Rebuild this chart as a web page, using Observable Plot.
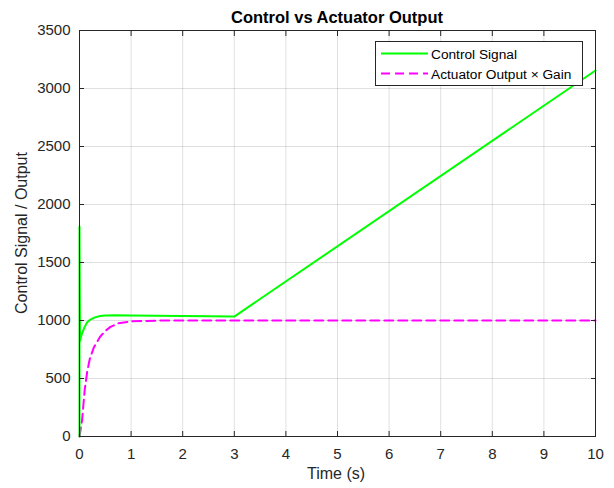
<!DOCTYPE html>
<html><head><meta charset="utf-8">
<script src="https://cdn.jsdelivr.net/npm/d3@7"></script>
<script src="https://cdn.jsdelivr.net/npm/@observablehq/plot@0.6"></script>
<style>body{margin:0;background:#fff;font-family:"Liberation Sans",Arial,sans-serif}</style>
</head><body><div id="chart"></div>
<script>
const controlT = [0, 0, 0.01, 0.03, 0.05, 0.1, 0.15, 0.2, 0.3, 0.4, 0.5, 0.7, 1.0, 1.5, 2.0, 2.5, 3.0, 10];
const controlV = [0, 1810, 820, 860, 890, 945, 985, 1005, 1027, 1038, 1043, 1046, 1044, 1041, 1038, 1036, 1034, 3155];
const actT = [0, 0.05, 0.1, 0.15, 0.2, 0.28, 0.4, 0.5, 0.6, 0.75, 1.0, 1.5, 2.0, 10];
const actV = [0, 140, 400, 560, 670, 770, 860, 910, 945, 975, 993, 999, 1000, 1000];
const xTicks = [0,1,2,3,4,5,6,7,8,9,10];
const yTicks = [0,500,1000,1500,2000,2500,3000,3500];
const seriesNames = ["Control Signal", "Actuator Output \u00d7 Gain"];
const seriesColors = ["#00ff00", "#ff00ff"];

const control = controlT.map((t,i)=>({t, v: controlV[i]}));
const act = actT.map((t,i)=>({t, v: actV[i]}));

const W = 614, H = 488, mL = 79, mR = 19, mT = 30, mB = 52;
const axisColor = "#262626";
const dash = "9,5";
const fmt = d3.format("d");
const chart = Plot.plot({
  width: W, height: H,
  marginLeft: mL, marginRight: mR, marginTop: mT, marginBottom: mB,
  style: {fontFamily: '"Liberation Sans", Arial, sans-serif', fontSize: "15px", color: axisColor, background: "#fff"},
  x: {domain: [0,10], ticks: xTicks, label: null},
  y: {domain: [0,3500], ticks: yTicks, label: null},
  marks: [
    Plot.gridX(xTicks, {stroke: "#000", strokeOpacity: 0.12}),
    Plot.gridY(yTicks, {stroke: "#000", strokeOpacity: 0.12}),
    Plot.line(act, {x: "t", y: "v", stroke: seriesColors[1], strokeWidth: 2, strokeDasharray: dash, curve: "linear"}),
    Plot.line(control, {x: "t", y: "v", stroke: seriesColors[0], strokeWidth: 2, curve: "linear"}),
    Plot.frame({stroke: axisColor, strokeWidth: 1}),
    Plot.axisX(xTicks, {anchor: "bottom", tickSize: -5, tickPadding: 17, tickFormat: fmt, stroke: axisColor, fill: axisColor, fontSize: 15, label: null}),
    Plot.axisX(xTicks, {anchor: "top", tickSize: -5, text: null, stroke: axisColor, label: null}),
    Plot.axisY(yTicks, {anchor: "left", tickSize: -5, tickPadding: 14, tickFormat: fmt, stroke: axisColor, fill: axisColor, fontSize: 15, label: null}),
    Plot.axisY(yTicks, {anchor: "right", tickSize: -5, text: null, stroke: axisColor, label: null}),
  ]
});
document.getElementById("chart").appendChild(chart);

const svg = d3.select(chart);
// title and axis labels
svg.append("text").attr("x", mL + (W-mL-mR)/2).attr("y", 23).attr("text-anchor","middle")
  .attr("font-weight","bold").attr("font-size", 16.5).attr("fill","#000").text("Control vs Actuator Output");
svg.append("text").attr("x", mL + (W-mL-mR)/2 - 1).attr("y", 479).attr("text-anchor","middle")
  .attr("font-size", 16).attr("fill", axisColor).text("Time (s)");
svg.append("text").attr("transform", `translate(27,${mT + (H-mT-mB)/2}) rotate(-90)`).attr("text-anchor","middle")
  .attr("font-size", 16).attr("fill", axisColor).text("Control Signal / Output");
// legend
const lg = svg.append("g").attr("text-anchor", "start");
lg.append("rect").attr("x", 375.5).attr("y", 41.5).attr("width", 207).attr("height", 44)
  .attr("fill","#fff").attr("stroke", axisColor).attr("stroke-width", 1);
seriesNames.forEach((name, i) => {
  const y = 53.5 + i*20;
  lg.append("line").attr("x1", 381).attr("x2", 428).attr("y1", y).attr("y2", y)
    .attr("stroke", seriesColors[i]).attr("stroke-width", 2).attr("stroke-dasharray", i ? dash : null);
  lg.append("text").attr("x", 431).attr("y", y + 5).attr("text-anchor", "start")
    .attr("font-size", 13.7).attr("fill","#000").text(name);
});
</script></body></html>
